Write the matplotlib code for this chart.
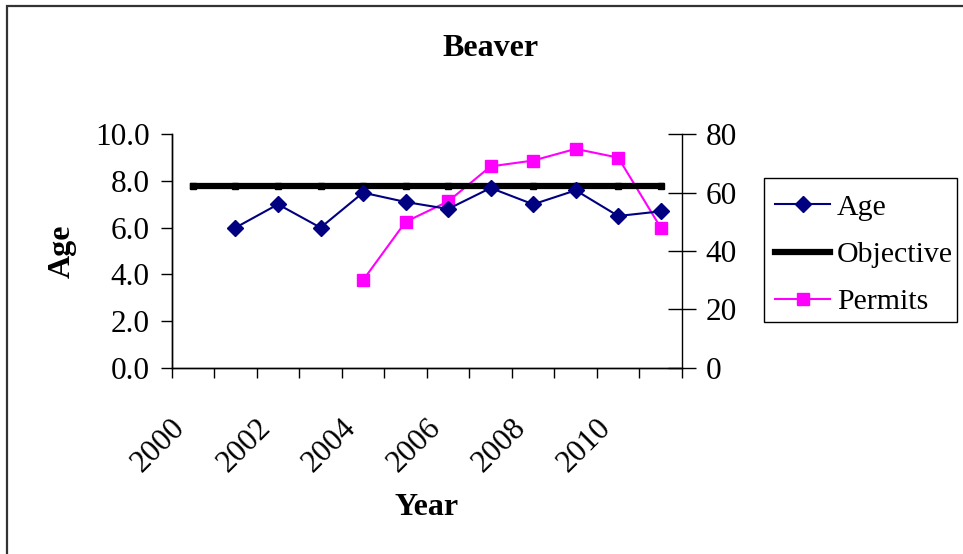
import numpy as np
import matplotlib
matplotlib.use("Agg")
import matplotlib.pyplot as plt
from matplotlib.patches import Rectangle
from matplotlib.lines import Line2D
from matplotlib.transforms import ScaledTranslation

plt.rcParams["font.family"] = ["Liberation Serif", "DejaVu Serif"]

years = list(range(2000, 2012))
age_years = list(range(2001, 2012))
age = [6.0, 7.0, 6.0, 7.5, 7.1, 6.8, 7.7, 7.0, 7.6, 6.5, 6.7]
objective_years = list(range(2000, 2012))
objective = [7.8] * len(objective_years)
permit_years = list(range(2004, 2012))
permits = [30, 50, 57, 69, 71, 75, 72, 48]
label_years = [2000, 2002, 2004, 2006, 2008, 2010]

NAVY = "#000080"
MAGENTA = "#FF00FF"
FS = 22.5

W, H = 963, 554
fig = plt.figure(figsize=(W / 100, H / 100), dpi=100, facecolor="white")

# chart frame (right and bottom edges run off the image)
fig.patches.append(Rectangle((7 / W, -0.1), 1.2, 1 - 6 / H + 0.1,
                             transform=fig.transFigure, fill=False,
                             edgecolor="#333333", linewidth=1.6))

ax = fig.add_axes([171.7 / W, 1 - 367.7 / H, (682 - 171.7) / W, (367.7 - 134.3) / H])
ax2 = ax.twinx()

ax.plot(objective_years, objective, color="black", linewidth=4.5,
        marker="s", markersize=4, zorder=2)
ax.plot(age_years, age, color=NAVY, linewidth=1.5, marker="D",
        markersize=8.5, zorder=4)
ax2.plot(permit_years, permits, color=MAGENTA, linewidth=1.5, marker="s",
         markersize=8.5, zorder=3)

ax.set_zorder(ax2.get_zorder() + 1)
ax.patch.set_visible(False)

ax.set_xlim(1999.5, 2011.5)
ax.set_ylim(0, 10)
ax2.set_ylim(0, 80)

# category boundaries carry the tick marks, labels sit on the centres
ax.set_xticks(np.arange(1999.5, 2012, 1.0))
ax.set_xticklabels([])
ax.set_xticks(label_years, minor=True)
ax.set_xticklabels([str(y) for y in label_years], minor=True, rotation=45,
                   ha="right", va="top", rotation_mode="anchor", fontsize=FS)
ax.tick_params(axis="x", which="major", direction="out", length=7, width=1)
ax.tick_params(axis="x", which="minor", length=0, pad=14)
shift = ScaledTranslation(-16 / 72, -19 / 72, fig.dpi_scale_trans)
for lbl in ax.get_xticklabels(minor=True):
    lbl.set_transform(lbl.get_transform() + shift)

ax.set_yticks(np.arange(0, 10.1, 2))
ax.set_yticklabels([f"{v:.1f}" for v in np.arange(0, 10.1, 2)], fontsize=FS)
ax.tick_params(axis="y", direction="out", length=8, width=1, pad=8)

ax2.set_yticks(np.arange(0, 81, 20))
ax2.set_yticklabels([str(v) for v in range(0, 81, 20)], fontsize=FS)
ax2.tick_params(axis="y", direction="inout", length=20, width=1, pad=7)

for a in (ax, ax2):
    a.spines["top"].set_visible(False)
    for s in ("left", "right", "bottom"):
        a.spines[s].set_linewidth(1)
ax.spines["right"].set_visible(False)

ax.set_xlabel("Year", fontsize=23, fontweight="bold")
ax.set_ylabel("Age", fontsize=23, fontweight="bold", labelpad=13)
ax.xaxis.set_label_coords(0.5, -0.537)

fig.text(490 / W, 1 - 48 / H, "Beaver", ha="center", va="center",
         fontsize=23, fontweight="bold")

# legend box drawn separately: Excel leaves almost no padding on the right
fig.patches.append(Rectangle((764 / W, 1 - 322 / H), (957 - 764) / W, (322 - 178) / H,
                             transform=fig.transFigure, fill=True,
                             facecolor="white", edgecolor="black", linewidth=1,
                             zorder=5))
handles = [
    Line2D([], [], color=NAVY, linewidth=1.5, marker="D", markersize=8),
    Line2D([], [], color="black", linewidth=4.5),
    Line2D([], [], color=MAGENTA, linewidth=1.5, marker="s", markersize=8),
]
leg = fig.legend(handles, ["Age", "Objective", "Permits"],
                 loc="upper left", bbox_to_anchor=(775 / W, 1 - 194 / H),
                 fontsize=21.5, frameon=False, handlelength=1.85,
                 handletextpad=0.22, borderpad=0, labelspacing=0.68,
                 borderaxespad=0)
leg.set_zorder(6)

fig.savefig("out.png", dpi=100, facecolor="white")
